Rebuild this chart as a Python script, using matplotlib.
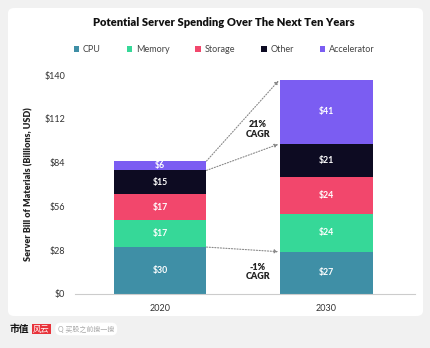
import numpy as np
import matplotlib
matplotlib.use('Agg')
import matplotlib.pyplot as plt
from matplotlib.patches import FancyBboxPatch

plt.rcParams['font.family'] = ['Lato', 'Noto Sans CJK SC', 'DejaVu Sans']

years = ["2020", "2030"]
categories = ["CPU", "Memory", "Storage", "Other", "Accelerator"]
values = {
    "CPU": [30, 27],
    "Memory": [17, 24],
    "Storage": [17, 24],
    "Other": [15, 21],
    "Accelerator": [6, 41],
}
colors = {
    "CPU": "#3f8fa6",
    "Memory": "#36d898",
    "Storage": "#f2476c",
    "Other": "#0d0b22",
    "Accelerator": "#7b5df2",
}
yticks = [0, 28, 56, 84, 112, 140]

W, H = 431, 348
fig = plt.figure(figsize=(W / 100, H / 100), dpi=100)
fig.patch.set_facecolor("#f1f1f1")

# white card behind everything
card = FancyBboxPatch((8 / W, 32 / H), 415 / W, 308 / H, boxstyle="round,pad=0,rounding_size=0.015",
                      transform=fig.transFigure, facecolor="white", edgecolor="none", zorder=-5)
fig.patches.append(card)

ax = fig.add_axes([75 / W, (H - 294) / H, (415 - 75) / W, (294 - 75) / H])
ax.set_facecolor("none")
ax.set_zorder(2)

x = np.arange(len(years))
width = 0.56
bottom = np.zeros(len(years))
for cat in categories:
    v = np.array(values[cat])
    ax.bar(x, v, width, bottom=bottom, color=colors[cat], label=cat, zorder=2)
    for xi, vi, bi in zip(x, v, bottom):
        ax.text(xi, bi + vi / 2, "$%d" % vi, ha="center", va="center", color="white",
                fontsize=6.3, fontweight="bold", zorder=3)
    bottom = bottom + v

ax.set_xlim(-0.512, 1.536)
ax.set_ylim(0, 140)
ax.set_yticks(yticks)
ax.set_yticklabels(["$%d" % t for t in yticks], fontsize=6.5, color="#333333")
ax.set_xticks(x)
ax.set_xticklabels(years, fontsize=6.5, color="#333333")
ax.tick_params(length=0, pad=7)
for s in ["top", "right", "left"]:
    ax.spines[s].set_visible(False)
ax.spines["bottom"].set_color("#cccccc")
ax.spines["bottom"].set_linewidth(0.8)
ax.set_ylabel("Server Bill of Materials (Billions, USD)", fontsize=6.5, fontweight="heavy",
              color="#222222", labelpad=8)

# dotted growth arrows
cum20 = np.cumsum([values[c][0] for c in categories])
cum30 = np.cumsum([values[c][1] for c in categories])
x0 = 0 + width / 2
x1 = 1 - width / 2
arrow = dict(arrowstyle="-|>", color="#888888", lw=0.8, linestyle=(0, (1, 1.5)), mutation_scale=5,
             shrinkA=0, shrinkB=1)
for a, b in [(cum20[4], cum30[4]), (cum20[3], cum30[3]), (cum20[0], cum30[0])]:
    ax.annotate("", xy=(x1, b), xytext=(x0, a), arrowprops=arrow, zorder=1)

ax.text(0.59, 105, "21%\nCAGR", ha="center", va="center", fontsize=6.5, fontweight="heavy",
        color="#222222", linespacing=1.1)
ax.text(0.59, 14, "-1%\nCAGR", ha="center", va="center", fontsize=6.5, fontweight="heavy",
        color="#222222", linespacing=1.1)

fig.text(224 / W, 1 - 22 / H, "Potential Server Spending Over The Next Ten Years", ha="center",
         va="center", fontsize=8, fontweight="heavy", color="#111111")

leg = fig.legend(loc="center", bbox_to_anchor=(224 / W, 1 - 50 / H), ncol=5, frameon=False,
                 fontsize=6.5, handlelength=0.6, handleheight=0.6, handletextpad=0.4,
                 columnspacing=2.9)
for t in leg.get_texts():
    t.set_color("#444444")

# footer
fig.text(10 / W, 1 - 329 / H, "市值", fontsize=7, fontweight="bold", color="#111111", va="center")
fig.text(33 / W, 1 - 329 / H, "风云", fontsize=6, color="white", va="center",
         bbox=dict(boxstyle="square,pad=0.15", facecolor="#e8333a", edgecolor="none"))
fig.text(58 / W, 1 - 329 / H, "Q 买股之前搜一搜", fontsize=5, color="#aaaaaa", va="center",
         bbox=dict(boxstyle="round,pad=0.4,rounding_size=0.8", facecolor="white", edgecolor="none"))

fig.savefig("out.png", dpi=100)
